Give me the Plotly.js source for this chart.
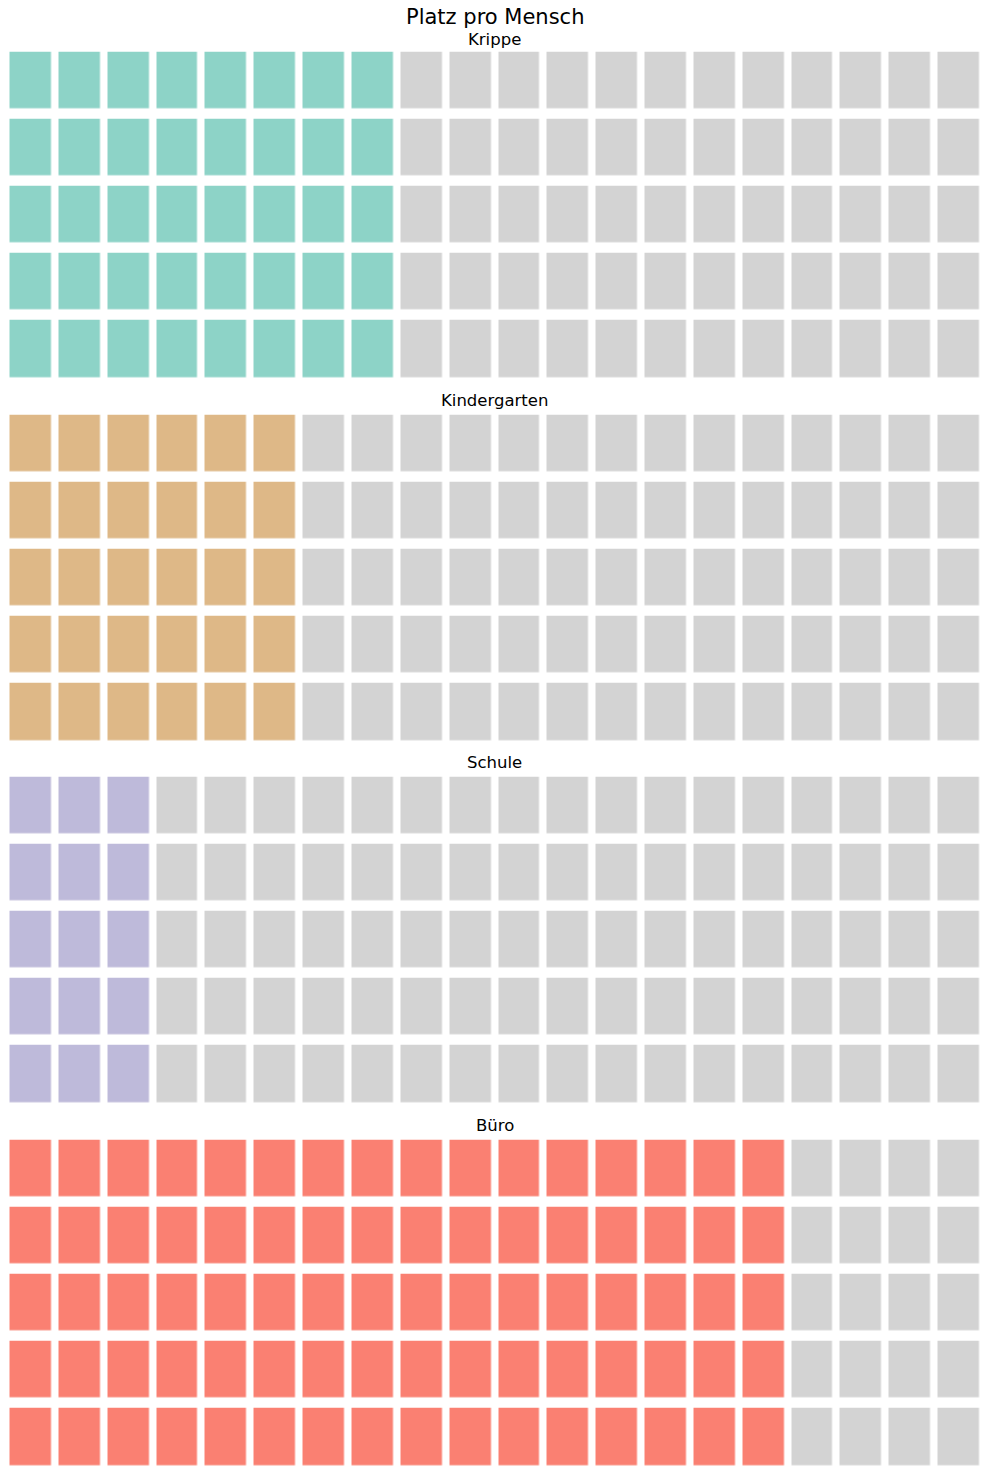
<!DOCTYPE html>
<html>
<head>
<meta charset="utf-8">
<script src="https://cdn.plot.ly/plotly-3.0.1.min.js"></script>
<style>html,body{margin:0;padding:0;background:#fff;}#chart{width:989px;height:1475px;}</style>
</head>
<body>
<div id="chart"></div>
<script>
// Data
const categories = ["Krippe", "Kindergarten", "Schule", "Büro"];
const values = [40, 30, 15, 80];          // filled squares out of 100
const totalSquares = 100;
const nRows = 5;
const colors = ["#8dd3c7", "#deb887", "#bebada", "#fa8072"];
const emptyColor = "#d3d3d3";
const chartTitle = "Platz pro Mensch";

// Layout geometry (pixels)
const W = 989, H = 1475;
const nCols = totalSquares / nRows;
const xLeftPx = 6.5, xRightPx = 983.5;
const panelTops = [52, 415, 777, 1140];
const titleOffsets = [13, 14.5, 14.5, 14.5];
const panelHeight = 325;
const yPad = 5.25;

const data = [];
const layout = {
  width: W, height: H,
  margin: {l: 0, r: 0, t: 0, b: 0},
  paper_bgcolor: "#ffffff", plot_bgcolor: "#ffffff",
  font: {family: "DejaVu Sans", color: "#000"},
  showlegend: false,
  annotations: [{
    text: chartTitle, xref: "paper", yref: "paper",
    x: 0.5, y: 1 - 17 / H, xanchor: "center", yanchor: "middle",
    showarrow: false, font: {size: 21, family: "DejaVu Sans", color: "#000"}
  }]
};

categories.forEach((cat, i) => {
  // column-major fill
  const z = [];
  for (let r = 0; r < nRows; r++) {
    const row = [];
    for (let c = 0; c < nCols; c++) {
      const idx = c * nRows + r;
      row.push(idx < values[i] ? 1 : 0);
    }
    z.push(row);
  }
  const ax = i === 0 ? "" : String(i + 1);
  data.push({
    type: "heatmap", z: z,
    xaxis: "x" + ax, yaxis: "y" + ax,
    zmin: 0, zmax: 1,
    colorscale: [[0, emptyColor], [0.5, emptyColor], [0.5, colors[i]], [1, colors[i]]],
    showscale: false, xgap: 7.5, ygap: 10.5, hoverinfo: "skip"
  });
  const topPx = panelTops[i] - yPad, botPx = panelTops[i] + panelHeight + yPad;
  layout["xaxis" + ax] = {
    domain: [xLeftPx / W, xRightPx / W], range: [-0.5, nCols - 0.5],
    visible: false, fixedrange: true, anchor: "y" + ax
  };
  layout["yaxis" + ax] = {
    domain: [1 - botPx / H, 1 - topPx / H], range: [nRows - 0.5, -0.5],
    visible: false, fixedrange: true, anchor: "x" + ax
  };
  layout.annotations.push({
    text: cat, xref: "paper", yref: "paper",
    x: 0.5, y: 1 - (panelTops[i] - titleOffsets[i]) / H, xanchor: "center", yanchor: "middle",
    showarrow: false, font: {size: 16.5, family: "DejaVu Sans", color: "#000"}
  });
});

Plotly.newPlot("chart", data, layout, {displayModeBar: false, staticPlot: true});
</script>
</body>
</html>
